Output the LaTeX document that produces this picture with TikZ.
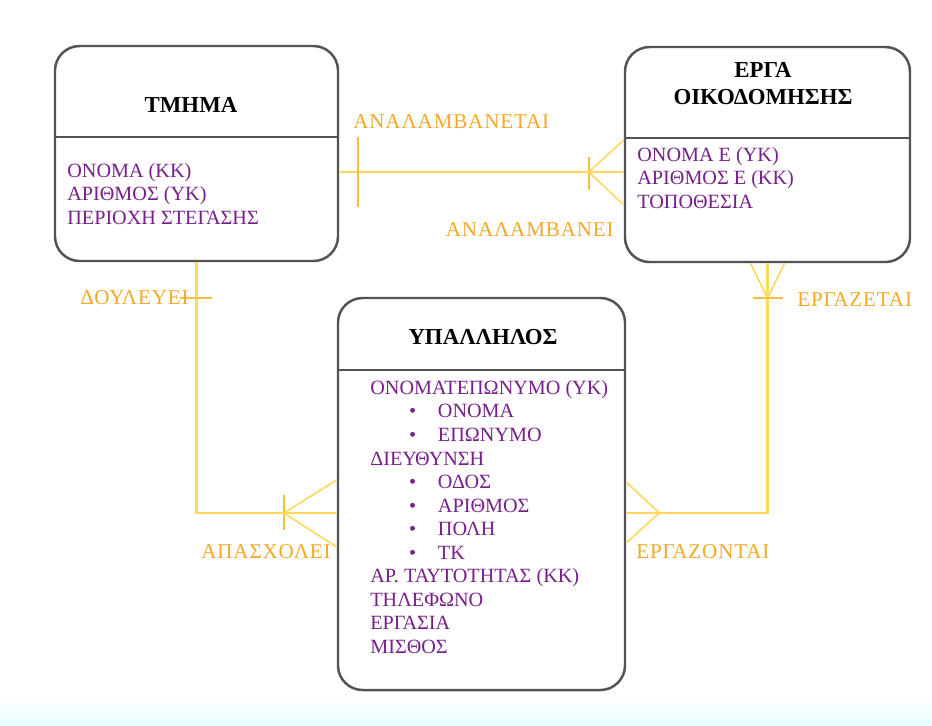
\documentclass[tikz,border=0pt]{standalone}
\usepackage{fontspec}
\setmainfont{Liberation Serif}
\newfontfamily\relfont{Liberation Serif}[LetterSpace=4]
\usetikzlibrary{fit,calc}
\tikzset{>=latex}

\definecolor{framegray}{RGB}{82,82,88}
\definecolor{attrpurple}{RGB}{118,32,138}
\definecolor{relline}{RGB}{255,216,92}
\definecolor{relbar}{RGB}{250,190,60}
\definecolor{reltext}{RGB}{246,168,38}

\newcommand\bul{\hspace*{22pt}\makebox[16.5pt][l]{\textbullet}}

\tikzset{
  entity/.style={draw=framegray, line width=1.4pt, rounded corners=14pt, inner sep=0pt},
  split/.style={draw=framegray, line width=1.1pt},
  entname/.style={font=\bfseries\fontsize{13}{15.3}\selectfont, align=center, inner sep=0pt},
  attrs/.style={anchor=north west, inner sep=0pt, align=left, text=attrpurple,
    font=\fontsize{11.5}{13.4}\selectfont},
  rel/.style={draw=relline, line width=1.3pt},
  foot/.style={draw=relline, line width=0.9pt},
  relbar/.style={draw=relbar, line width=1pt},
  relname/.style={text=reltext, font=\relfont\fontsize{12}{14}\selectfont, inner sep=0pt},
}

\begin{document}
\begin{tikzpicture}[x=0.02cm, y=-0.02cm]
  \fill[white] (0,0) rectangle (932,725);
  \shade[top color=white, bottom color=cyan!10] (0,700) rectangle (932,725);
  \useasboundingbox (0,0) rectangle (932,725);

  % entities
  \node[entity, fit={(55,46) (338,261)}] (tmima) {};
  \node[entity, fit={(625,47) (910,262)}] (erga) {};
  \node[entity, fit={(338,298) (625,690)}] (ypal) {};
  \draw[split] (tmima.west |- 0,137) -- (tmima.east |- 0,137);
  \draw[split] (erga.west |- 0,138) -- (erga.east |- 0,138);
  \draw[split] (ypal.west |- 0,370) -- (ypal.east |- 0,370);

  \node[entname] (tmima-t) at (191,105) {ΤΜΗΜΑ};
  \node[entname] (erga-t) at (763,84) {ΕΡΓΑ\\ΟΙΚΟΔΟΜΗΣΗΣ};
  \node[entname] (ypal-t) at (483,337) {ΥΠΑΛΛΗΛΟΣ};

  \node[attrs] (tmima-a) at (67,163) {ΟΝΟΜΑ (ΚΚ)\\ΑΡΙΘΜΟΣ (ΥΚ)\\ΠΕΡΙΟΧΗ ΣΤΕΓΑΣΗΣ};
  \node[attrs] (erga-a) at (637,147) {ΟΝΟΜΑ Ε (ΥΚ)\\ΑΡΙΘΜΟΣ Ε (ΚΚ)\\ΤΟΠΟΘΕΣΙΑ};
  \node[attrs] (ypal-a) at (370,380) {ΟΝΟΜΑΤΕΠΩΝΥΜΟ (ΥΚ)\\\bul ΟΝΟΜΑ\\\bul ΕΠΩΝΥΜΟ\\
    ΔΙΕΥΘΥΝΣΗ\\\bul ΟΔΟΣ\\\bul ΑΡΙΘΜΟΣ\\\bul ΠΟΛΗ\\\bul ΤΚ\\
    ΑΡ. ΤΑΥΤΟΤΗΤΑΣ (ΚΚ)\\ΤΗΛΕΦΩΝΟ\\ΕΡΓΑΣΙΑ\\ΜΙΣΘΟΣ};

  % ΤΜΗΜΑ -- ΕΡΓΑ
  \coordinate (t-e1) at (tmima.east |- 0,172);
  \coordinate (t-e2) at (erga.west |- 0,172);
  \draw[rel] (t-e1) -- (t-e2);
  \draw[relbar] ($(t-e1)+(19,-35)$) -- ($(t-e1)+(19,35)$);
  \draw[relbar] ($(t-e2)+(-35,-15)$) -- ($(t-e2)+(-35,18)$);
  \draw[foot] ($(t-e2)+(0,-32)$) -- ($(t-e2)+(-35,0)$) -- ($(t-e2)+(0,33)$);

  % ΤΜΗΜΑ -- ΥΠΑΛΛΗΛΟΣ
  \coordinate (t-y) at (ypal.west |- 0,513);
  \draw[rel] (tmima.south) |- (t-y);
  \draw[relbar] ($(tmima.south)+(-17,36)$) -- ($(tmima.south)+(15,36)$);
  \draw[relbar] ($(t-y)+(-53,-18)$) -- ($(t-y)+(-53,17)$);
  \draw[foot] ($(t-y)+(0,-33)$) -- ($(t-y)+(-53,0)$) -- ($(t-y)+(0,34)$);

  % ΕΡΓΑ -- ΥΠΑΛΛΗΛΟΣ
  \coordinate (e-y) at (ypal.east |- 0,513);
  \draw[rel] (erga.south) |- (e-y);
  \draw[foot] ($(erga.south)+(-17,0)$) -- ($(erga.south)+(0,35)$) -- ($(erga.south)+(17,0)$);
  \draw[relbar] ($(erga.south)+(-15,35)$) -- ($(erga.south)+(15,35)$);
  \draw[foot] ($(e-y)+(0,-31)$) -- ($(e-y)+(33,0)$) -- ($(e-y)+(0,30)$);

  \node[relname, anchor=base west] (l-anal1) at (353,128) {ΑΝΑΛΑΜΒΑΝΕΤΑΙ};
  \node[relname, anchor=base east] (l-anal2) at (614,236) {ΑΝΑΛΑΜΒΑΝΕΙ};
  \node[relname, anchor=base east] (l-doul) at (189,304) {ΔΟΥΛΕΥΕΙ};
  \node[relname, anchor=base east] (l-apas) at (331,558) {ΑΠΑΣΧΟΛΕΙ};
  \node[relname, anchor=base west] (l-ergz) at (636,558) {ΕΡΓΑΖΟΝΤΑΙ};
  \node[relname, anchor=base west] (l-erge) at (797,306) {ΕΡΓΑΖΕΤΑΙ};
\end{tikzpicture}
\end{document}
